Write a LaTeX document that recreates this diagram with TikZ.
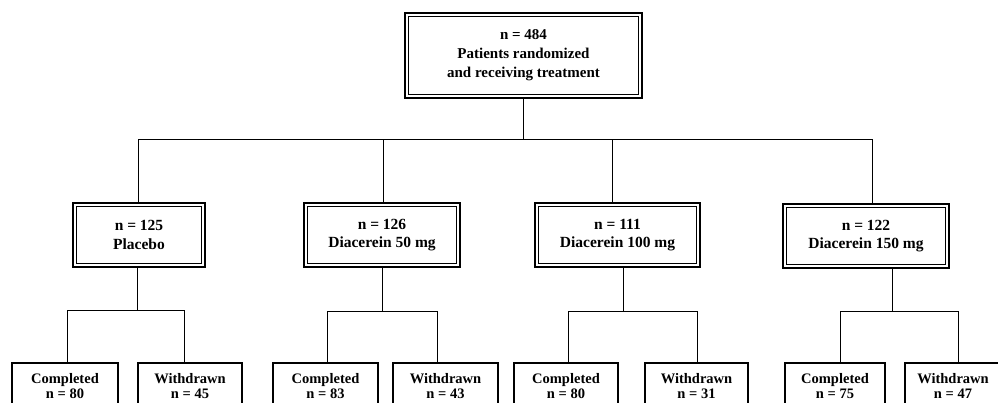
\documentclass[tikz,border=0pt]{standalone}
\usepackage{fontspec}
\setmainfont{Liberation Serif}
\begin{document}
\begin{tikzpicture}[x=1pt,y=-1pt,
  dbl/.style={draw, line width=1.6pt, inner sep=0pt, align=center,
    font=\fontsize{15}{19}\selectfont\bfseries},
  mid/.style={dbl, minimum height=64pt, font=\fontsize{15.5}{18.5}\selectfont\bfseries},
  leaf/.style={draw, line width=1.1pt, inner sep=0pt, minimum height=46pt, align=center,
    font=\fontsize{14.5}{15}\selectfont\bfseries},
  inner/.style={line width=0.8pt},
  conn/.style={line width=1pt}]
\useasboundingbox (0,0) rectangle (998,402);
\clip (0,0) rectangle (998,402);

% top box
\node[dbl, minimum width=237pt, minimum height=85pt] (top) at (523.5,55.5)
  {n = 484\\Patients randomized\\and receiving treatment};

% middle boxes
\node[mid, minimum width=132pt] (m1) at (139,235) {n = 125\\Placebo};
\node[mid, minimum width=156pt] (m2) at (382,235) {n = 126\\Diacerein 50 mg};
\node[mid, minimum width=165pt] (m3) at (617.5,235) {n = 111\\Diacerein 100 mg};
\node[mid, minimum width=166pt] (m4) at (866,236) {n = 122\\Diacerein 150 mg};

% inner frames of the double boxes
\foreach \b in {top,m1,m2,m3,m4}{
  \draw[inner] ([xshift=4pt,yshift=4pt]\b.south west) rectangle ([xshift=-4pt,yshift=-4pt]\b.north east);
}

% bottom boxes
\node[leaf, minimum width=106pt] (c1) at (65,386) {Completed\\n = 80};
\node[leaf, minimum width=104pt] (w1) at (190,386) {Withdrawn\\n = 45};
\node[leaf, minimum width=105pt] (c2) at (325.5,386) {Completed\\n = 83};
\node[leaf, minimum width=105pt] (w2) at (445.5,386) {Withdrawn\\n = 43};
\node[leaf, minimum width=104pt] (c3) at (566,386) {Completed\\n = 80};
\node[leaf, minimum width=103pt] (w3) at (696.5,386) {Withdrawn\\n = 31};
\node[leaf, minimum width=100pt] (c4) at (835,386) {Completed\\n = 75};
\node[leaf, minimum width=96pt] (w4) at (953,386) {Withdrawn\\n = 47};

% top branching
\coordinate (b1) at (138,139);
\coordinate (b2) at (383,139);
\coordinate (b3) at (612,139);
\coordinate (b4) at (872,139);
\draw[conn] (top.south) -- (top.south |- b1);
\draw[conn] (b1) -- (b4);
\draw[conn] (b1) -- (b1 |- m1.north);
\draw[conn] (b2) -- (b2 |- m2.north);
\draw[conn] (b3) -- (b3 |- m3.north);
\draw[conn] (b4) -- (b4 |- m4.north);

% lower branching
\coordinate (p1) at (137,310);
\coordinate (p2) at (382,311);
\coordinate (p3) at (623,311);
\coordinate (p4) at (892,311);
\coordinate (l1) at (67,310);  \coordinate (r1) at (184,310);
\coordinate (l2) at (327,311); \coordinate (r2) at (437,311);
\coordinate (l3) at (568,311); \coordinate (r3) at (697,311);
\coordinate (l4) at (840,311); \coordinate (r4) at (958,311);
\draw[conn] (p1 |- m1.south) -- (p1);
\draw[conn] (p2 |- m2.south) -- (p2);
\draw[conn] (p3 |- m3.south) -- (p3);
\draw[conn] (p4 |- m4.south) -- (p4);
\draw[conn] (l1 |- c1.north) -- (l1) -- (r1) -- (r1 |- w1.north);
\draw[conn] (l2 |- c2.north) -- (l2) -- (r2) -- (r2 |- w2.north);
\draw[conn] (l3 |- c3.north) -- (l3) -- (r3) -- (r3 |- w3.north);
\draw[conn] (l4 |- c4.north) -- (l4) -- (r4) -- (r4 |- w4.north);
\end{tikzpicture}
\end{document}
